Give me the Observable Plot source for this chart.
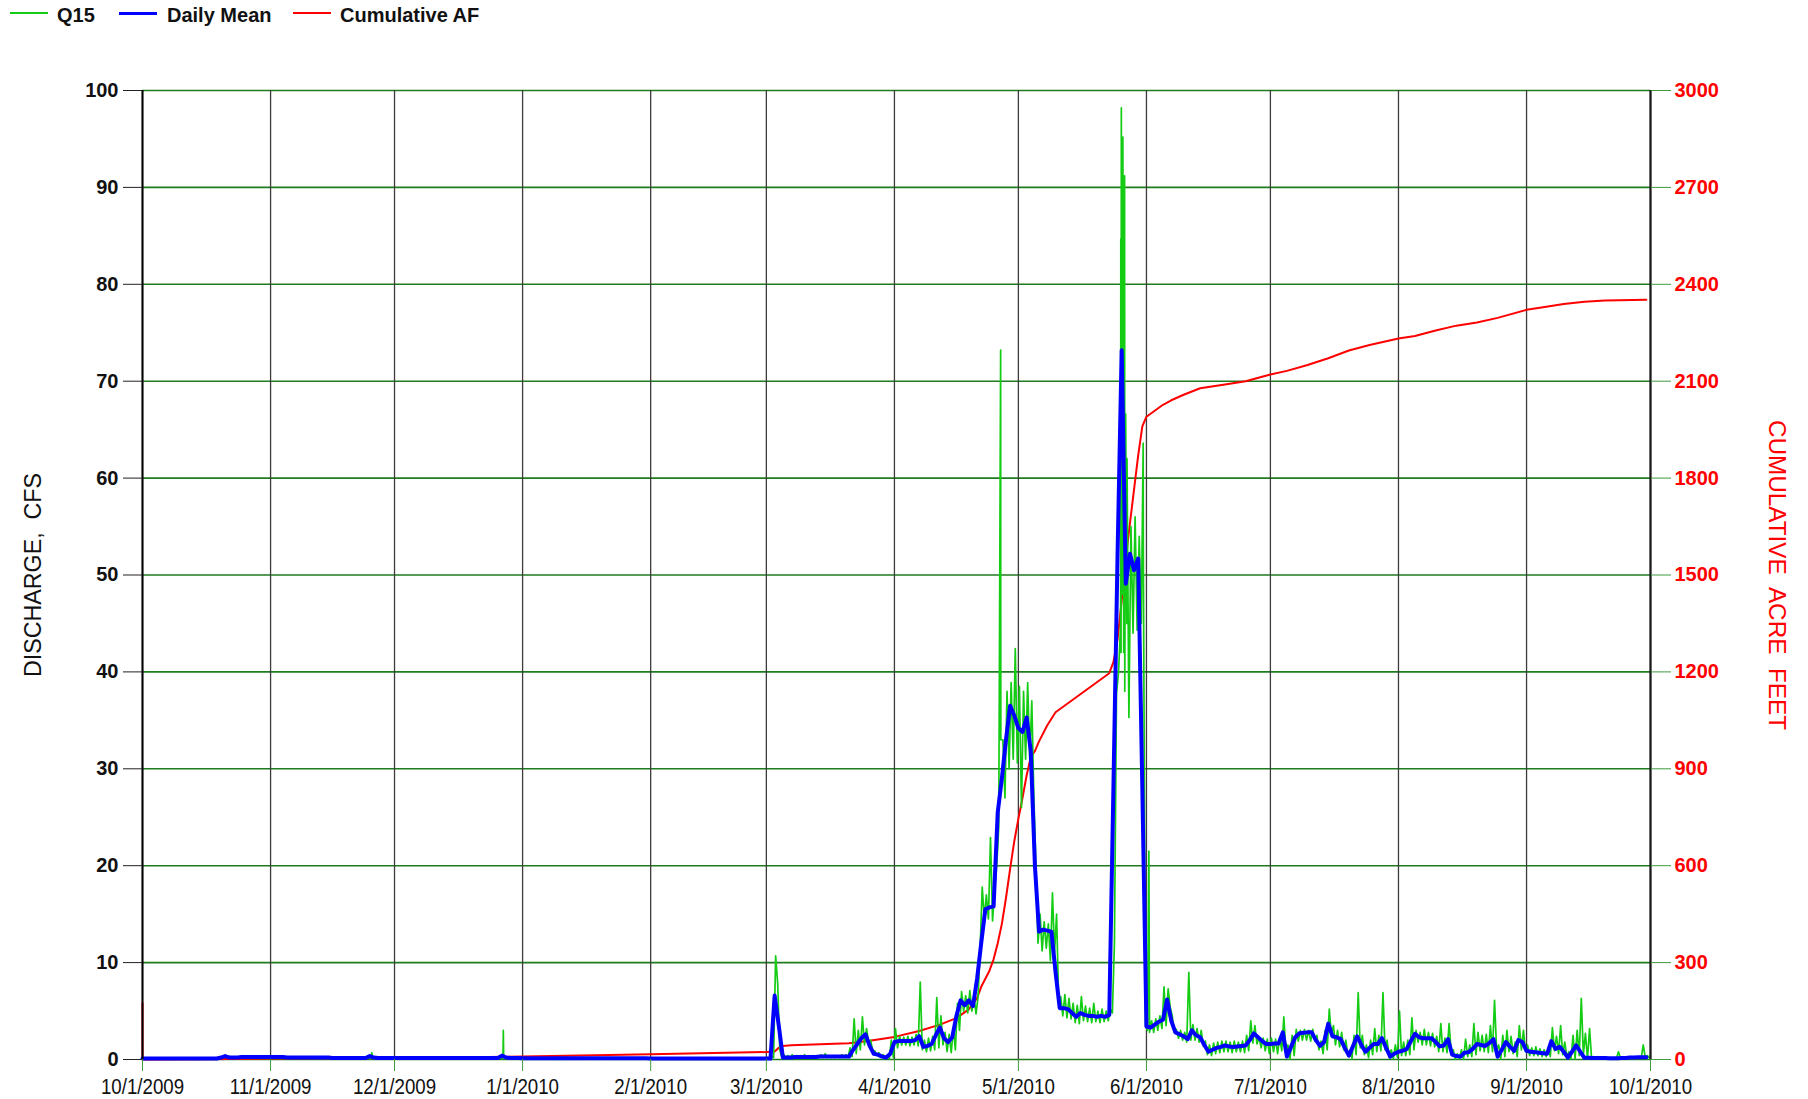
<!DOCTYPE html>
<html>
<head>
<meta charset="utf-8">
<script src="https://cdn.jsdelivr.net/npm/d3@7"></script>
<script src="https://cdn.jsdelivr.net/npm/@observablehq/plot@0.6"></script>
<style>
html,body{margin:0;padding:0;background:#fff;overflow:hidden;}
#legend{position:relative;height:28px;width:1808px;font-family:"Liberation Sans",Arial,sans-serif;font-weight:bold;font-size:20px;color:#111;}
#legend .ln{position:absolute;top:12px;height:2px;width:38px;}
#legend .lb{position:absolute;top:5px;line-height:20px;white-space:nowrap;}
#chart svg{display:block;}
</style>
</head>
<body>
<div id="legend">
  <span class="ln" style="left:10px;background:#14cc14"></span><span class="lb" style="left:57px">Q15</span>
  <span class="ln" style="left:119px;height:3px;background:#0000ff"></span><span class="lb" style="left:167px">Daily Mean</span>
  <span class="ln" style="left:293px;background:#ff0000"></span><span class="lb" style="left:340px">Cumulative AF</span>
</div>
<div id="chart"></div>
<script>
// ---------------- DATA ----------------
const xTickLabels = ["10/1/2009","11/1/2009","12/1/2009","1/1/2010","2/1/2010","3/1/2010","4/1/2010","5/1/2010","6/1/2010","7/1/2010","8/1/2010","9/1/2010","10/1/2010"];
const yTicks = [0,10,20,30,40,50,60,70,80,90,100];
const afTickLabels = ["0","300","600","900","1200","1500","1800","2100","2400","2700","3000"];

// Daily mean discharge (cfs), one value per day from 10/1/2009 to 9/30/2010
const dailyMean = [
  // Oct 2009
  0.1,0.1,0.1,0.1,0.1,0.1,0.1,0.1,0.1,0.1,
  0.1,0.1,0.1,0.1,0.1,0.1,0.1,0.1,0.1,0.2,
  0.35,0.2,0.2,0.2,0.25,0.25,0.25,0.25,0.25,0.25,
  0.25,
  // Nov
  0.25,0.25,0.25,0.25,0.2,0.2,0.2,0.2,0.2,0.2,
  0.2,0.2,0.2,0.2,0.2,0.15,0.15,0.15,0.15,0.15,
  0.15,0.15,0.15,0.15,0.35,0.2,0.15,0.15,0.15,0.15,
  // Dec
  0.15,0.15,0.15,0.15,0.15,0.15,0.15,0.15,0.15,0.15,
  0.15,0.15,0.15,0.15,0.15,0.15,0.15,0.15,0.15,0.15,
  0.15,0.15,0.15,0.15,0.15,0.15,0.4,0.2,0.15,0.15,
  0.15,
  // Jan 2010
  0.12,0.12,0.12,0.12,0.12,0.12,0.12,0.12,0.12,0.12,
  0.12,0.12,0.12,0.12,0.12,0.12,0.12,0.12,0.12,0.12,
  0.12,0.12,0.12,0.12,0.12,0.12,0.12,0.12,0.12,0.12,
  0.12,
  // Feb
  0.1,0.1,0.1,0.1,0.1,0.1,0.1,0.1,0.1,0.1,
  0.1,0.1,0.1,0.1,0.1,0.1,0.1,0.1,0.1,0.1,
  0.1,0.1,0.1,0.1,0.1,0.1,0.1,0.1,
  // Mar
  0.1,0.1,6.6,3.5,0.2,0.2,0.2,0.25,0.25,0.25,
  0.25,0.25,0.25,0.3,0.3,0.3,0.3,0.3,0.3,0.3,
  0.3,1.0,1.6,2.2,2.6,1.4,0.6,0.5,0.3,0.2,
  0.6,
  // Apr
  1.8,1.9,1.9,1.9,1.9,2.0,2.4,1.3,1.4,1.6,
  2.5,3.3,2.2,1.8,2.3,4.5,6.1,5.6,6.1,5.5,
  8.3,12,15.5,15.7,15.8,25.5,29,33,36.5,35.5,
  // May
  34.2,33.8,35.3,31.8,20,13.2,13.4,13.3,13.2,9,
  5.3,5.3,5.2,4.8,4.4,4.8,4.6,4.5,4.5,4.4,
  4.5,4.4,4.6,28,52,73.2,49.1,52.2,50.5,51.7,
  28,
  // Jun
  3.4,3.3,3.6,3.9,4.1,6.2,4.0,2.8,2.6,2.4,
  2.1,3.0,2.5,2.3,1.5,0.8,1.0,1.2,1.3,1.45,
  1.35,1.3,1.35,1.4,1.45,2.0,2.7,2.3,1.9,1.6,
  // Jul
  1.6,1.65,1.66,2.8,0.3,1.3,2.3,2.7,2.75,2.8,
  2.8,2.0,1.4,1.8,3.7,2.4,2.3,2.1,1.2,0.4,
  1.4,2.4,1.5,0.8,1.2,1.6,1.6,2.2,1.2,0.3,
  0.6,
  // Aug
  0.8,0.9,1.1,1.9,2.65,2.3,2.2,2.2,2.2,1.8,
  1.35,1.45,2.1,0.5,0.35,0.3,0.7,0.76,1.1,1.6,
  1.5,1.4,1.7,2.1,0.3,1.0,1.8,1.3,0.9,2.0,
  1.8,
  // Sep
  0.9,0.8,0.76,0.7,0.65,0.6,1.9,1.1,1.3,0.8,
  0.2,0.8,1.45,0.8,0.17,0.17,0.16,0.15,0.15,0.15,
  0.14,0.14,0.14,0.15,0.15,0.2,0.2,0.22,0.24,0.24
];

// Q15 (15-minute discharge) readings, Oct 2009 - Feb 2010 (low flow period)
const q15WinterTimes = ["2009-10-01T00:00","2009-10-20T00:00","2009-10-21T12:00","2009-10-23T00:00","2009-11-01T00:00","2009-11-15T00:00","2009-11-25T06:00","2009-11-25T12:00","2009-11-25T18:00","2009-12-15T00:00","2009-12-27T06:00","2009-12-27T08:00","2009-12-27T10:00","2009-12-28T00:00","2010-01-15T00:00","2010-02-28T18:00"];
const q15WinterValues = [0.1,0.15,0.35,0.2,0.25,0.2,0.15,0.7,0.2,0.15,0.15,3.0,0.4,0.2,0.12,0.1];

// Q15 morning (06:00) and evening (18:00) readings, Mar 1 - Sep 30 2010
const q15Am = [
  // Mar
  0.2,0.3,10.7,1.0,0.5,0.4,0.5,0.4,0.4,0.5,
  0.4,0.4,0.4,0.5,0.6,0.4,0.4,0.4,0.5,0.5,
  1.2,4.2,3.0,4.4,3.2,2.0,0.9,0.7,0.5,0.4,
  2.0,
  // Apr
  3.2,2.4,2.3,2.4,2.3,2.6,8.0,2.0,2.2,2.4,
  6.4,4.5,2.8,2.6,3.2,5.8,7.0,6.6,7.1,6.5,
  6.5,17.8,17,22.9,17.5,24,33,38,38.9,42.4,
  // May
  38.5,38,38.9,37,20,15,14.2,14,17.2,15,
  6.5,6.7,6.3,5.8,5.6,6.5,5.5,5.3,5.8,5.0,
  5.2,5.0,5.2,12,40,50,45,55,56,54,
  52,
  // Jun
  3.0,4.0,4.2,4.5,7.5,7.3,4.5,3.1,3.0,2.8,
  9.0,3.6,3.2,3.0,1.9,1.5,1.7,1.8,1.9,1.9,
  1.8,1.9,1.8,1.9,2.5,4.0,3.5,2.3,2.2,2.1,
  // Jul
  2.2,2.1,2.3,4.4,1.5,2.5,3.1,3.0,3.1,3.0,
  3.1,2.5,1.9,3.0,5.2,3.5,3.0,2.8,2.0,1.0,
  2.5,6.9,2.5,1.5,2.0,3.2,2.5,6.9,2.0,1.0,
  1.5,
  // Aug
  5.0,1.8,2.0,4.3,3.0,2.8,3.1,2.8,2.7,2.4,
  3.7,2.2,3.7,1.0,0.6,1.0,2.1,1.5,3.7,2.8,
  2.5,2.6,3.5,6.1,1.5,2.5,3.0,2.4,1.8,3.5,
  3.0,
  // Sep
  1.5,1.2,1.3,1.1,1.0,1.2,3.3,2.4,3.5,1.8,
  0.8,2.5,3.0,6.3,2.7,3.2,0.3,0.3,0.2,0.2,
  0.2,0.2,0.8,0.2,0.2,0.3,0.3,0.3,1.5,0.4
];
const q15Pm = [
  // Mar
  0.1,0.2,7.8,0.2,0.2,0.2,0.2,0.2,0.2,0.2,
  0.2,0.2,0.2,0.2,0.2,0.2,0.2,0.2,0.2,0.2,
  0.3,0.6,1.0,1.5,1.8,0.8,0.4,0.3,0.2,0.1,
  0.2,
  // Apr
  1.2,1.5,1.5,1.4,1.5,1.4,1.0,0.8,0.9,1.0,
  1.2,1.5,0.8,0.7,1.0,3.0,5.0,4.8,5.0,4.7,
  11.5,14.5,14.5,14.3,20,33,27,30,31,30.6,
  // May
  26,31,31,27,12,11.2,11.5,10.2,11,6,
  4.5,4.3,4.2,3.8,3.7,4.0,3.9,3.8,3.9,3.8,
  3.9,4.0,4.8,37.8,45,38,35.3,44,44.3,45,
  3.5,
  // Jun
  2.8,2.8,3.0,3.2,3.5,5.4,2.8,2.2,2.0,1.8,
  2.0,2.0,1.8,1.4,0.5,0.4,0.6,0.7,0.8,0.8,
  0.7,0.8,0.8,0.7,0.9,1.7,1.6,1.2,0.9,0.6,
  // Jul
  0.8,0.6,0.9,0.8,0.05,0.4,1.9,2.0,2.0,1.9,
  1.9,1.0,0.6,1.0,2.5,1.5,1.3,1.0,0.4,0.1,
  0.5,1.2,0.5,0.2,0.5,0.8,0.9,1.0,0.2,0.1,
  0.2,
  // Aug
  0.4,0.4,0.5,1.0,1.8,1.5,1.5,1.4,1.3,0.8,
  0.8,0.7,0.8,0.05,0.05,0.05,0.3,0.3,0.5,0.9,
  0.8,0.7,0.8,1.0,0.05,0.3,0.8,0.6,0.3,1.0,
  0.8,
  // Sep
  0.4,0.4,0.4,0.3,0.3,0.3,0.9,0.6,0.5,0.3,
  0.05,0.05,0.4,0.5,0.05,0.05,0.1,0.1,0.1,0.1,
  0.1,0.1,0.1,0.1,0.1,0.1,0.15,0.15,0.2,0.2
];
// Additional Q15 readings around the storm peaks
const q15ExtraTimes = ["2010-04-26T17:00","2010-05-25T19:00","2010-05-25T20:30","2010-05-25T22:00","2010-05-26T02:00","2010-05-26T07:00","2010-05-26T12:00","2010-05-26T17:00","2010-05-26T23:00","2010-05-27T07:00","2010-05-31T05:00","2010-06-01T14:00"];
const q15ExtraValues = [73.2,84.7,42,98.2,48,95.2,42,91.2,66.6,62,63.6,21.5];

// Cumulative acre-feet
const cumTimes = ["2009-10-01T00:00","2009-10-01T00:15","2009-10-15","2009-11-01","2009-12-01","2010-01-01","2010-02-01","2010-03-01","2010-03-03","2010-03-04","2010-03-05","2010-03-07","2010-03-21","2010-03-26","2010-04-01","2010-04-07","2010-04-12","2010-04-16","2010-04-19","2010-04-21","2010-04-22","2010-04-24","2010-04-25","2010-04-26","2010-04-27","2010-04-28","2010-04-29","2010-04-30","2010-05-01","2010-05-02","2010-05-03","2010-05-04","2010-05-05","2010-05-06","2010-05-08","2010-05-10","2010-05-23","2010-05-24","2010-05-25","2010-05-26","2010-05-27","2010-05-28","2010-05-29","2010-05-30","2010-05-31","2010-06-01","2010-06-05","2010-06-07","2010-06-10","2010-06-14","2010-06-20","2010-06-25","2010-07-01","2010-07-05","2010-07-10","2010-07-15","2010-07-20","2010-07-25","2010-08-01","2010-08-05","2010-08-10","2010-08-15","2010-08-20","2010-08-25","2010-09-01","2010-09-05","2010-09-10","2010-09-15","2010-09-20","2010-09-30"];
const cumAF = [175,0,1,3,5,9,16,23,25,36,42,44,50,58,70,88,108,128,155,190,225,275,310,360,420,500,590,675,745,810,880,935,955,985,1035,1075,1196,1230,1300,1420,1550,1660,1765,1870,1960,1990,2027,2041,2058,2078,2090,2100,2121,2132,2150,2171,2195,2212,2232,2240,2257,2272,2282,2296,2321,2329,2339,2346,2350,2352];

// ---------------- BUILD ----------------
const T = s => new Date(s.length === 10 ? s + "T00:00Z" : s + "Z");
const parseTick = d3.utcParse("%m/%d/%Y");
const xTicks = xTickLabels.map(parseTick);
const DAY = 864e5;
const start = Date.UTC(2009, 9, 1);
const q15Start = Date.UTC(2010, 2, 1);

const meanRows = dailyMean.map((v, i) => ({t: new Date(start + i * DAY), v}));
const q15Rows = [];
q15WinterTimes.forEach((s, i) => q15Rows.push({t: T(s), v: q15WinterValues[i]}));
q15Am.forEach((v, i) => q15Rows.push({t: new Date(q15Start + i * DAY + 6 * 36e5), v}));
q15Pm.forEach((v, i) => q15Rows.push({t: new Date(q15Start + i * DAY + 18 * 36e5), v}));
q15ExtraTimes.forEach((s, i) => q15Rows.push({t: T(s), v: q15ExtraValues[i]}));
q15Rows.sort((a, b) => a.t - b.t);
const cumRows = cumTimes.map((s, i) => ({t: T(s), af: cumAF[i]}));

const GRID_GREEN = "#1e7b1e";
const TICK_GREEN = "#3d9a3d";
const SANS = "'Liberation Sans',Arial,sans-serif";
const leftTitle = "DISCHARGE,\u00a0 CFS";
const rightTitle = "CUMULATIVE\u00a0 ACRE\u00a0 FEET";

const chart = Plot.plot({
  width: 1808,
  height: 1071,
  marginTop: 62,
  marginBottom: 40,
  marginLeft: 142,
  marginRight: 158,
  style: {background: "#fff", overflow: "visible"},
  x: {type: "utc", domain: [xTicks[0], xTicks[xTicks.length - 1]]},
  y: {domain: [0, 100]},
  marks: [
    Plot.ruleY(yTicks, {stroke: GRID_GREEN, strokeWidth: 1.6}),
    Plot.ruleX(xTicks, {stroke: "#3c3c3c", strokeWidth: 1.3}),
    Plot.line(cumRows, {x: "t", y: d => d.af / 30, stroke: "#ff0000", strokeWidth: 2}),
    Plot.line(q15Rows, {x: "t", y: "v", stroke: "#14cc14", strokeWidth: 1.7}),
    Plot.line(meanRows, {x: "t", y: "v", stroke: "#0000ff", strokeWidth: 4}),
    Plot.ruleX([xTicks[0]], {stroke: "#000", strokeWidth: 2}),
    Plot.ruleX([xTicks[xTicks.length - 1]], {stroke: "#1a1a1a", strokeWidth: 2.2}),
    Plot.axisY(yTicks, {anchor: "left", tickSize: 19, tickPadding: 5, stroke: "#222", fill: "#111",
      fontSize: 20, fontWeight: "bold", fontFamily: SANS, label: null, tickFormat: d => String(d)}),
    Plot.axisY(yTicks, {anchor: "right", tickSize: 20, tickPadding: 4, stroke: TICK_GREEN, fill: "#ff0000",
      fontSize: 20, fontWeight: "bold", fontFamily: SANS, label: null,
      tickFormat: d => afTickLabels[yTicks.indexOf(d)]}),
    Plot.axisX(xTicks, {anchor: "bottom", tickSize: 12, tickPadding: 7, stroke: TICK_GREEN, fill: "#111",
      fontSize: 22, fontFamily: SANS, label: null,
      tickFormat: d => xTickLabels[xTicks.findIndex(e => +e === +d)]}),
    Plot.text([leftTitle], {frameAnchor: "left", textAnchor: "middle", dx: -109, rotate: -90, text: d => d,
      fontSize: 24, fontFamily: SANS, fill: "#111"}),
    Plot.text([rightTitle], {frameAnchor: "right", textAnchor: "middle", dx: 126, rotate: 90, text: d => d,
      fontSize: 24, fontFamily: SANS, fill: "#ff0000"})
  ]
});
document.getElementById("chart").appendChild(chart);

// condensed look for the x tick labels and axis titles
d3.select(chart).selectAll('g[aria-label="x-axis tick label"] text').each(function() {
  const w = this.getComputedTextLength();
  d3.select(this).attr("textLength", w * 0.85).attr("lengthAdjust", "spacingAndGlyphs");
});
d3.select(chart).selectAll("text").each(function() {
  if (this.textContent === leftTitle) d3.select(this).attr("textLength", 204).attr("lengthAdjust", "spacingAndGlyphs");
  if (this.textContent === rightTitle) d3.select(this).attr("textLength", 310).attr("lengthAdjust", "spacingAndGlyphs");
});
</script>
</body>
</html>
